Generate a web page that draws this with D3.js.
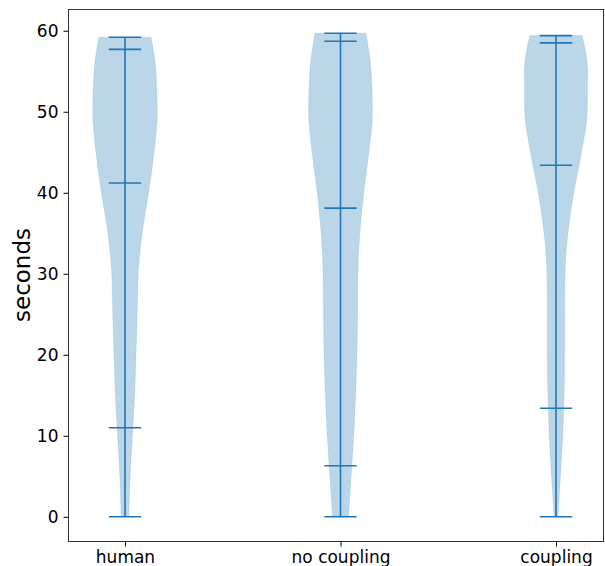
<!DOCTYPE html>
<html>
<head>
<meta charset="utf-8">
<script src="https://cdn.jsdelivr.net/npm/d3@7"></script>
<style>
  body { margin: 0; background: #fff; }
  text { font-family: "DejaVu Sans", sans-serif; fill: #000; }
</style>
</head>
<body>
<svg id="chart" width="605" height="566"></svg>
<script>
// categories and positions
const categories = ['human', 'no coupling', 'coupling'];
const positions = [1, 2, 3];

// seconds at which the violin outline was read (last point is the max of each group)
const gridSeconds = [0, 5, 10, 15, 20, 25, 30, 35, 40, 45, 50, 55];

// relative density (1 = widest part)
const humanDensity      = [0.12, 0.16, 0.23, 0.30, 0.34, 0.38, 0.41, 0.53, 0.73, 0.90, 1.00, 0.96, 0.81];
const noCouplingDensity = [0.25, 0.33, 0.41, 0.47, 0.51, 0.53, 0.54, 0.60, 0.72, 0.88, 0.99, 0.95, 0.79];
const couplingDensity   = [0.06, 0.14, 0.21, 0.25, 0.27, 0.27, 0.28, 0.37, 0.55, 0.79, 0.97, 0.98, 0.81];

// summary lines: min, lower quantile, median, upper quantile, max
const mins      = [0, 0, 0];
const lowerQ    = [11.0, 6.3, 13.4];
const medians   = [41.2, 38.1, 43.4];
const upperQ    = [57.7, 58.7, 58.5];
const maxes     = [59.2, 59.7, 59.4];

const yTicks = [0, 10, 20, 30, 40, 50, 60];

const densities = [humanDensity, noCouplingDensity, couplingDensity];

const svg = d3.select('#chart');
const mLeft = 68, mTop = 9, mBottom = 541, mRight = 604;

const x = d3.scaleLinear().domain([0.7355, 3.2645]).range([mLeft, 613]);
const y = d3.scaleLinear().domain([-2.985, 62.685]).range([mBottom, mTop]);

const widths = 0.3;
const blue = '#1f77b4';

// violins
categories.forEach((cat, i) => {
    const pos = positions[i];
    const pts = gridSeconds.map((s, j) => ({ s: s, d: densities[i][j] }));
    pts.push({ s: maxes[i], d: densities[i][densities[i].length - 1] });

    const area = d3.area()
        .y(d => y(d.s))
        .x0(d => x(pos - widths / 2 * d.d))
        .x1(d => x(pos + widths / 2 * d.d))
        .curve(d3.curveMonotoneY);

    svg.append('path')
        .datum(pts)
        .attr('d', area)
        .attr('fill', blue)
        .attr('fill-opacity', 0.3)
        .attr('stroke', blue)
        .attr('stroke-opacity', 0.1)
        .attr('stroke-width', 1);
});

// bars and horizontal lines
const g = svg.append('g').attr('stroke', blue).attr('stroke-width', 1.6);
positions.forEach((pos, i) => {
    g.append('line')
        .attr('x1', x(pos)).attr('x2', x(pos))
        .attr('y1', y(mins[i])).attr('y2', y(maxes[i]));
    [mins[i], lowerQ[i], medians[i], upperQ[i], maxes[i]].forEach(v => {
        g.append('line')
            .attr('x1', x(pos - widths / 4)).attr('x2', x(pos + widths / 4))
            .attr('y1', y(v)).attr('y2', y(v));
    });
});

// frame
svg.append('rect')
    .attr('x', mLeft + 0.5).attr('y', mTop + 0.5)
    .attr('width', mRight - mLeft - 1).attr('height', mBottom - mTop)
    .attr('fill', 'none').attr('stroke', '#333').attr('stroke-width', 1);

// y axis
const yAxis = svg.append('g')
    .attr('transform', `translate(${mLeft + 0.5},0)`)
    .call(d3.axisLeft(y).tickValues(yTicks).tickSize(5).tickPadding(5));
yAxis.select('.domain').remove();
yAxis.selectAll('text').style('font-size', '17px');

// x axis
const xAxis = svg.append('g')
    .attr('transform', `translate(0,${mBottom + 0.5})`)
    .call(d3.axisBottom(x).tickValues(positions).tickFormat((d, i) => categories[i]).tickSize(5).tickPadding(4));
xAxis.select('.domain').remove();
xAxis.selectAll('text').style('font-size', '17px');

// y label
svg.append('text')
    .attr('transform', `translate(22,${(mTop + mBottom) / 2}) rotate(-90)`)
    .attr('text-anchor', 'middle')
    .attr('dy', '0.35em')
    .style('font-size', '23px')
    .text('seconds');
</script>
</body>
</html>
